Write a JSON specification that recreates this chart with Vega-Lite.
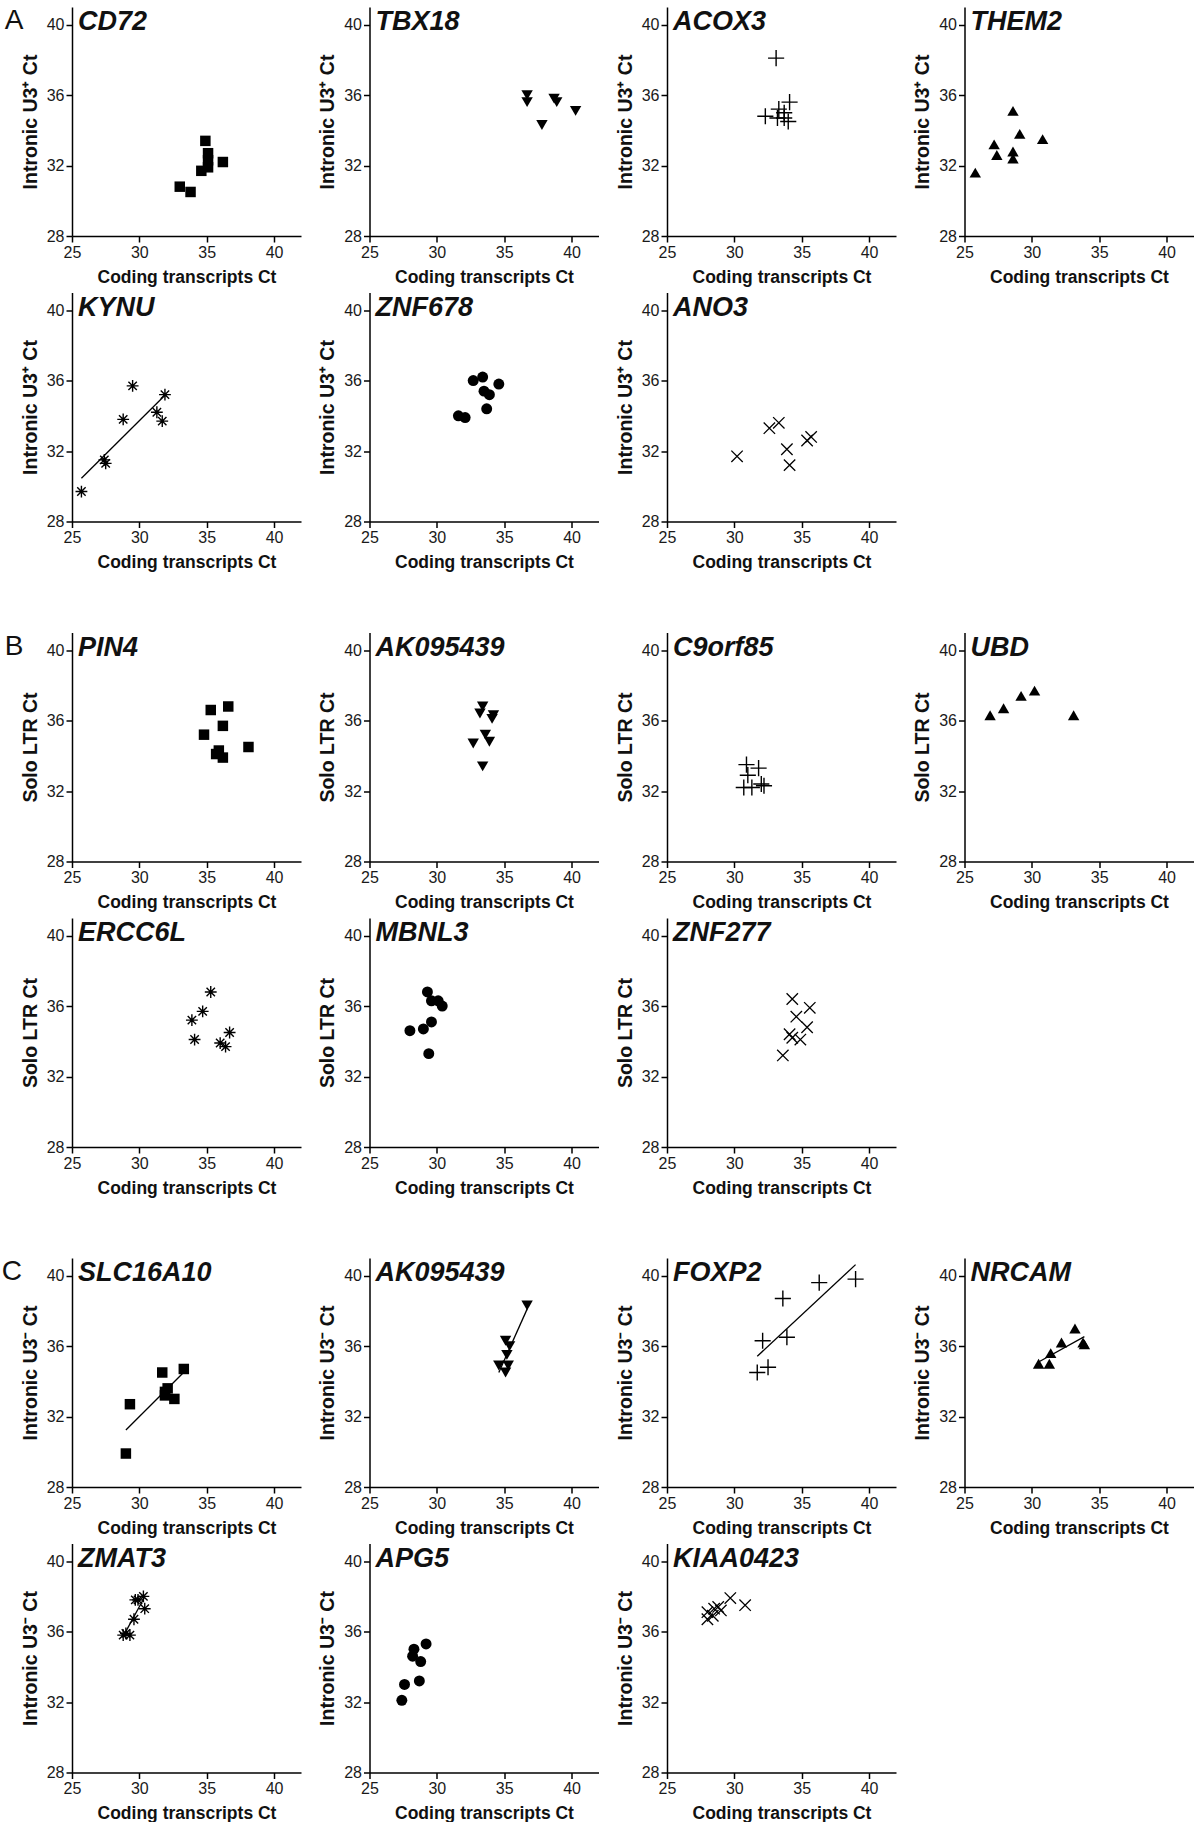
{
"$schema": "https://vega.github.io/schema/vega-lite/v6.json",
"padding": {"left": 1, "top": 7, "right": 2, "bottom": 0},
"background": "white",
"data": {"values": [
{"s":"A","g":"CD72","x":34.9,"y":33.4},{"s":"A","g":"CD72","x":35.1,"y":32.7},{"s":"A","g":"CD72","x":35.1,"y":32.3},{"s":"A","g":"CD72","x":35.1,"y":31.9},{"s":"A","g":"CD72","x":34.6,"y":31.7},{"s":"A","g":"CD72","x":36.2,"y":32.2},{"s":"A","g":"CD72","x":33.0,"y":30.8},{"s":"A","g":"CD72","x":33.8,"y":30.5},
{"s":"A","g":"TBX18","x":36.7,"y":36.0},{"s":"A","g":"TBX18","x":36.7,"y":35.6},{"s":"A","g":"TBX18","x":38.7,"y":35.8},{"s":"A","g":"TBX18","x":38.9,"y":35.6},{"s":"A","g":"TBX18","x":37.8,"y":34.3},{"s":"A","g":"TBX18","x":40.3,"y":35.1},
{"s":"A","g":"ACOX3","x":33.1,"y":38.1},{"s":"A","g":"ACOX3","x":34.1,"y":35.6},{"s":"A","g":"ACOX3","x":33.3,"y":35.2},{"s":"A","g":"ACOX3","x":33.7,"y":35.0},{"s":"A","g":"ACOX3","x":32.3,"y":34.8},{"s":"A","g":"ACOX3","x":33.2,"y":34.7},{"s":"A","g":"ACOX3","x":33.7,"y":34.7},{"s":"A","g":"ACOX3","x":34.0,"y":34.5},
{"s":"A","g":"THEM2","x":25.8,"y":31.6},{"s":"A","g":"THEM2","x":27.2,"y":33.2},{"s":"A","g":"THEM2","x":27.4,"y":32.6},{"s":"A","g":"THEM2","x":28.6,"y":35.1},{"s":"A","g":"THEM2","x":28.6,"y":32.8},{"s":"A","g":"THEM2","x":28.6,"y":32.4},{"s":"A","g":"THEM2","x":29.1,"y":33.8},{"s":"A","g":"THEM2","x":30.8,"y":33.5},
{"s":"A","g":"KYNU","x":25.7,"y":29.7},{"s":"A","g":"KYNU","x":27.4,"y":31.5},{"s":"A","g":"KYNU","x":27.5,"y":31.3},{"s":"A","g":"KYNU","x":28.8,"y":33.8},{"s":"A","g":"KYNU","x":29.5,"y":35.7},{"s":"A","g":"KYNU","x":31.3,"y":34.2},{"s":"A","g":"KYNU","x":31.7,"y":33.7},{"s":"A","g":"KYNU","x":31.9,"y":35.2},
{"s":"A","g":"ZNF678","x":31.6,"y":34.0},{"s":"A","g":"ZNF678","x":32.1,"y":33.9},{"s":"A","g":"ZNF678","x":32.7,"y":36.0},{"s":"A","g":"ZNF678","x":33.4,"y":36.2},{"s":"A","g":"ZNF678","x":33.5,"y":35.4},{"s":"A","g":"ZNF678","x":33.9,"y":35.2},{"s":"A","g":"ZNF678","x":33.7,"y":34.4},{"s":"A","g":"ZNF678","x":34.6,"y":35.8},
{"s":"A","g":"ANO3","x":30.2,"y":31.7},{"s":"A","g":"ANO3","x":32.6,"y":33.3},{"s":"A","g":"ANO3","x":33.3,"y":33.6},{"s":"A","g":"ANO3","x":33.9,"y":32.1},{"s":"A","g":"ANO3","x":34.1,"y":31.2},{"s":"A","g":"ANO3","x":35.4,"y":32.6},{"s":"A","g":"ANO3","x":35.7,"y":32.8},
{"s":"B","g":"PIN4","x":35.3,"y":36.6},{"s":"B","g":"PIN4","x":36.6,"y":36.8},{"s":"B","g":"PIN4","x":36.2,"y":35.7},{"s":"B","g":"PIN4","x":34.8,"y":35.2},{"s":"B","g":"PIN4","x":38.1,"y":34.5},{"s":"B","g":"PIN4","x":35.7,"y":34.1},{"s":"B","g":"PIN4","x":35.9,"y":34.3},{"s":"B","g":"PIN4","x":36.2,"y":33.9},
{"s":"B","g":"AK095439","x":33.4,"y":36.8},{"s":"B","g":"AK095439","x":33.2,"y":36.4},{"s":"B","g":"AK095439","x":34.2,"y":36.3},{"s":"B","g":"AK095439","x":34.1,"y":36.1},{"s":"B","g":"AK095439","x":33.6,"y":35.2},{"s":"B","g":"AK095439","x":33.9,"y":34.8},{"s":"B","g":"AK095439","x":32.7,"y":34.7},{"s":"B","g":"AK095439","x":33.4,"y":33.4},
{"s":"B","g":"C9orf85","x":30.9,"y":33.5},{"s":"B","g":"C9orf85","x":31.8,"y":33.3},{"s":"B","g":"C9orf85","x":31.0,"y":32.9},{"s":"B","g":"C9orf85","x":30.7,"y":32.2},{"s":"B","g":"C9orf85","x":31.3,"y":32.2},{"s":"B","g":"C9orf85","x":32.0,"y":32.4},{"s":"B","g":"C9orf85","x":32.2,"y":32.3},
{"s":"B","g":"UBD","x":26.9,"y":36.3},{"s":"B","g":"UBD","x":27.9,"y":36.7},{"s":"B","g":"UBD","x":29.2,"y":37.4},{"s":"B","g":"UBD","x":30.2,"y":37.7},{"s":"B","g":"UBD","x":33.1,"y":36.3},
{"s":"B","g":"ERCC6L","x":35.3,"y":36.8},{"s":"B","g":"ERCC6L","x":34.7,"y":35.7},{"s":"B","g":"ERCC6L","x":33.9,"y":35.2},{"s":"B","g":"ERCC6L","x":34.1,"y":34.1},{"s":"B","g":"ERCC6L","x":36.7,"y":34.5},{"s":"B","g":"ERCC6L","x":36.0,"y":33.9},{"s":"B","g":"ERCC6L","x":36.4,"y":33.7},
{"s":"B","g":"MBNL3","x":29.3,"y":36.8},{"s":"B","g":"MBNL3","x":29.6,"y":36.3},{"s":"B","g":"MBNL3","x":30.1,"y":36.3},{"s":"B","g":"MBNL3","x":30.4,"y":36.0},{"s":"B","g":"MBNL3","x":29.6,"y":35.1},{"s":"B","g":"MBNL3","x":29.0,"y":34.7},{"s":"B","g":"MBNL3","x":28.0,"y":34.6},{"s":"B","g":"MBNL3","x":29.4,"y":33.3},
{"s":"B","g":"ZNF277","x":34.3,"y":36.4},{"s":"B","g":"ZNF277","x":35.6,"y":35.9},{"s":"B","g":"ZNF277","x":34.6,"y":35.4},{"s":"B","g":"ZNF277","x":35.4,"y":34.8},{"s":"B","g":"ZNF277","x":34.1,"y":34.4},{"s":"B","g":"ZNF277","x":34.3,"y":34.2},{"s":"B","g":"ZNF277","x":34.9,"y":34.1},{"s":"B","g":"ZNF277","x":33.6,"y":33.2},
{"s":"C","g":"SLC16A10","x":29.0,"y":29.9},{"s":"C","g":"SLC16A10","x":29.3,"y":32.7},{"s":"C","g":"SLC16A10","x":31.7,"y":34.5},{"s":"C","g":"SLC16A10","x":33.3,"y":34.7},{"s":"C","g":"SLC16A10","x":32.1,"y":33.6},{"s":"C","g":"SLC16A10","x":31.9,"y":33.4},{"s":"C","g":"SLC16A10","x":31.9,"y":33.2},{"s":"C","g":"SLC16A10","x":32.6,"y":33.0},
{"s":"C","g":"AK095439","x":36.7,"y":38.3},{"s":"C","g":"AK095439","x":35.1,"y":36.3},{"s":"C","g":"AK095439","x":35.4,"y":36.0},{"s":"C","g":"AK095439","x":35.2,"y":35.5},{"s":"C","g":"AK095439","x":34.6,"y":34.9},{"s":"C","g":"AK095439","x":35.3,"y":34.9},{"s":"C","g":"AK095439","x":35.1,"y":34.5},
{"s":"C","g":"FOXP2","x":31.7,"y":34.5},{"s":"C","g":"FOXP2","x":32.5,"y":34.8},{"s":"C","g":"FOXP2","x":32.1,"y":36.3},{"s":"C","g":"FOXP2","x":33.9,"y":36.5},{"s":"C","g":"FOXP2","x":33.6,"y":38.7},{"s":"C","g":"FOXP2","x":36.3,"y":39.6},{"s":"C","g":"FOXP2","x":39.0,"y":39.8},
{"s":"C","g":"NRCAM","x":30.5,"y":35.0},{"s":"C","g":"NRCAM","x":31.3,"y":35.0},{"s":"C","g":"NRCAM","x":31.4,"y":35.6},{"s":"C","g":"NRCAM","x":32.2,"y":36.2},{"s":"C","g":"NRCAM","x":33.2,"y":37.0},{"s":"C","g":"NRCAM","x":33.8,"y":36.2},{"s":"C","g":"NRCAM","x":33.9,"y":36.1},
{"s":"C","g":"ZMAT3","x":28.8,"y":35.8},{"s":"C","g":"ZMAT3","x":29.0,"y":35.9},{"s":"C","g":"ZMAT3","x":29.3,"y":35.8},{"s":"C","g":"ZMAT3","x":29.6,"y":36.7},{"s":"C","g":"ZMAT3","x":29.7,"y":37.8},{"s":"C","g":"ZMAT3","x":29.9,"y":37.8},{"s":"C","g":"ZMAT3","x":30.3,"y":38.0},{"s":"C","g":"ZMAT3","x":30.4,"y":37.3},
{"s":"C","g":"APG5","x":27.4,"y":32.1},{"s":"C","g":"APG5","x":27.6,"y":33.0},{"s":"C","g":"APG5","x":28.3,"y":35.0},{"s":"C","g":"APG5","x":28.2,"y":34.6},{"s":"C","g":"APG5","x":29.2,"y":35.3},{"s":"C","g":"APG5","x":28.8,"y":34.3},{"s":"C","g":"APG5","x":28.7,"y":33.2},
{"s":"C","g":"KIAA0423","x":28.0,"y":36.7},{"s":"C","g":"KIAA0423","x":28.0,"y":37.1},{"s":"C","g":"KIAA0423","x":28.4,"y":36.9},{"s":"C","g":"KIAA0423","x":28.5,"y":37.3},{"s":"C","g":"KIAA0423","x":28.8,"y":37.4},{"s":"C","g":"KIAA0423","x":29.0,"y":37.2},{"s":"C","g":"KIAA0423","x":29.7,"y":37.9},{"s":"C","g":"KIAA0423","x":30.8,"y":37.5}
]},
"spacing": 61.5,
"vconcat": [
{
"title": {"text": "A", "orient": "left", "anchor": "end", "angle": 0, "align": "right", "baseline": "top", "frame": "bounds", "fontSize": 28, "fontWeight": "normal", "fontStyle": "normal", "offset": -22, "dx": 0},
"columns": 4,
"spacing": {"row": 6.5, "column": 16.5},
"concat": [
{"title": "CD72", "width": 229, "height": 229, "transform": [{"filter": "datum.s==='A'&&datum.g==='CD72'"}],
 "encoding": {"x": {"field": "x", "type": "quantitative", "scale": {"domain": [25, 42], "nice": false, "zero": false}, "axis": {"values": [25, 30, 35, 40], "title": "Coding transcripts Ct"}}, "y": {"field": "y", "type": "quantitative", "scale": {"domain": [28, 41], "nice": false, "zero": false}, "axis": {"values": [28, 32, 36, 40], "title": "Intronic U3⁺ Ct"}}},
 "layer": [{"mark": {"type": "point", "shape": "square", "filled": true, "color": "black", "opacity": 1, "size": 110}}]},
{"title": "TBX18", "width": 229, "height": 229, "transform": [{"filter": "datum.s==='A'&&datum.g==='TBX18'"}],
 "encoding": {"x": {"field": "x", "type": "quantitative", "scale": {"domain": [25, 42], "nice": false, "zero": false}, "axis": {"values": [25, 30, 35, 40], "title": "Coding transcripts Ct"}}, "y": {"field": "y", "type": "quantitative", "scale": {"domain": [28, 41], "nice": false, "zero": false}, "axis": {"values": [28, 32, 36, 40], "title": "Intronic U3⁺ Ct"}}},
 "layer": [{"mark": {"type": "point", "shape": "triangle-down", "filled": true, "color": "black", "opacity": 1, "size": 130}}]},
{"title": "ACOX3", "width": 229, "height": 229, "transform": [{"filter": "datum.s==='A'&&datum.g==='ACOX3'"}],
 "encoding": {"x": {"field": "x", "type": "quantitative", "scale": {"domain": [25, 42], "nice": false, "zero": false}, "axis": {"values": [25, 30, 35, 40], "title": "Coding transcripts Ct"}}, "y": {"field": "y", "type": "quantitative", "scale": {"domain": [28, 41], "nice": false, "zero": false}, "axis": {"values": [28, 32, 36, 40], "title": "Intronic U3⁺ Ct"}}},
 "layer": [{"mark": {"type": "point", "shape": "M-1,0L1,0M0,-1L0,1", "filled": false, "color": "black", "opacity": 1, "size": 260, "strokeWidth": 1.4}}]},
{"title": "THEM2", "width": 229, "height": 229, "transform": [{"filter": "datum.s==='A'&&datum.g==='THEM2'"}],
 "encoding": {"x": {"field": "x", "type": "quantitative", "scale": {"domain": [25, 42], "nice": false, "zero": false}, "axis": {"values": [25, 30, 35, 40], "title": "Coding transcripts Ct"}}, "y": {"field": "y", "type": "quantitative", "scale": {"domain": [28, 41], "nice": false, "zero": false}, "axis": {"values": [28, 32, 36, 40], "title": "Intronic U3⁺ Ct"}}},
 "layer": [{"mark": {"type": "point", "shape": "triangle-up", "filled": true, "color": "black", "opacity": 1, "size": 130}}]},
{"title": "KYNU", "width": 229, "height": 229, "transform": [{"filter": "datum.s==='A'&&datum.g==='KYNU'"}],
 "encoding": {"x": {"field": "x", "type": "quantitative", "scale": {"domain": [25, 42], "nice": false, "zero": false}, "axis": {"values": [25, 30, 35, 40], "title": "Coding transcripts Ct"}}, "y": {"field": "y", "type": "quantitative", "scale": {"domain": [28, 41], "nice": false, "zero": false}, "axis": {"values": [28, 32, 36, 40], "title": "Intronic U3⁺ Ct"}}},
 "layer": [{"mark": {"type": "point", "shape": "M-1,0L1,0M0,-1L0,1M-0.71,-0.71L0.71,0.71M-0.71,0.71L0.71,-0.71", "filled": false, "color": "black", "opacity": 1, "size": 140, "strokeWidth": 1.4}},
  {"transform": [{"regression": "y", "on": "x"}], "mark": {"type": "line", "color": "black", "strokeWidth": 1.3}, "encoding": {}}]},
{"title": "ZNF678", "width": 229, "height": 229, "transform": [{"filter": "datum.s==='A'&&datum.g==='ZNF678'"}],
 "encoding": {"x": {"field": "x", "type": "quantitative", "scale": {"domain": [25, 42], "nice": false, "zero": false}, "axis": {"values": [25, 30, 35, 40], "title": "Coding transcripts Ct"}}, "y": {"field": "y", "type": "quantitative", "scale": {"domain": [28, 41], "nice": false, "zero": false}, "axis": {"values": [28, 32, 36, 40], "title": "Intronic U3⁺ Ct"}}},
 "layer": [{"mark": {"type": "point", "shape": "circle", "filled": true, "color": "black", "opacity": 1, "size": 120}}]},
{"title": "ANO3", "width": 229, "height": 229, "transform": [{"filter": "datum.s==='A'&&datum.g==='ANO3'"}],
 "encoding": {"x": {"field": "x", "type": "quantitative", "scale": {"domain": [25, 42], "nice": false, "zero": false}, "axis": {"values": [25, 30, 35, 40], "title": "Coding transcripts Ct"}}, "y": {"field": "y", "type": "quantitative", "scale": {"domain": [28, 41], "nice": false, "zero": false}, "axis": {"values": [28, 32, 36, 40], "title": "Intronic U3⁺ Ct"}}},
 "layer": [{"mark": {"type": "point", "shape": "M-1,-1L1,1M-1,1L1,-1", "filled": false, "color": "black", "opacity": 1, "size": 130, "strokeWidth": 1.3}}]}
]},
{
"title": {"text": "B", "orient": "left", "anchor": "end", "angle": 0, "align": "right", "baseline": "top", "frame": "bounds", "fontSize": 28, "fontWeight": "normal", "fontStyle": "normal", "offset": -22, "dx": 0},
"columns": 4,
"spacing": {"row": 6.5, "column": 16.5},
"concat": [
{"title": "PIN4", "width": 229, "height": 229, "transform": [{"filter": "datum.s==='B'&&datum.g==='PIN4'"}],
 "encoding": {"x": {"field": "x", "type": "quantitative", "scale": {"domain": [25, 42], "nice": false, "zero": false}, "axis": {"values": [25, 30, 35, 40], "title": "Coding transcripts Ct"}}, "y": {"field": "y", "type": "quantitative", "scale": {"domain": [28, 41], "nice": false, "zero": false}, "axis": {"values": [28, 32, 36, 40], "title": "Solo LTR Ct"}}},
 "layer": [{"mark": {"type": "point", "shape": "square", "filled": true, "color": "black", "opacity": 1, "size": 110}}]},
{"title": "AK095439", "width": 229, "height": 229, "transform": [{"filter": "datum.s==='B'&&datum.g==='AK095439'"}],
 "encoding": {"x": {"field": "x", "type": "quantitative", "scale": {"domain": [25, 42], "nice": false, "zero": false}, "axis": {"values": [25, 30, 35, 40], "title": "Coding transcripts Ct"}}, "y": {"field": "y", "type": "quantitative", "scale": {"domain": [28, 41], "nice": false, "zero": false}, "axis": {"values": [28, 32, 36, 40], "title": "Solo LTR Ct"}}},
 "layer": [{"mark": {"type": "point", "shape": "triangle-down", "filled": true, "color": "black", "opacity": 1, "size": 130}}]},
{"title": "C9orf85", "width": 229, "height": 229, "transform": [{"filter": "datum.s==='B'&&datum.g==='C9orf85'"}],
 "encoding": {"x": {"field": "x", "type": "quantitative", "scale": {"domain": [25, 42], "nice": false, "zero": false}, "axis": {"values": [25, 30, 35, 40], "title": "Coding transcripts Ct"}}, "y": {"field": "y", "type": "quantitative", "scale": {"domain": [28, 41], "nice": false, "zero": false}, "axis": {"values": [28, 32, 36, 40], "title": "Solo LTR Ct"}}},
 "layer": [{"mark": {"type": "point", "shape": "M-1,0L1,0M0,-1L0,1", "filled": false, "color": "black", "opacity": 1, "size": 260, "strokeWidth": 1.4}}]},
{"title": "UBD", "width": 229, "height": 229, "transform": [{"filter": "datum.s==='B'&&datum.g==='UBD'"}],
 "encoding": {"x": {"field": "x", "type": "quantitative", "scale": {"domain": [25, 42], "nice": false, "zero": false}, "axis": {"values": [25, 30, 35, 40], "title": "Coding transcripts Ct"}}, "y": {"field": "y", "type": "quantitative", "scale": {"domain": [28, 41], "nice": false, "zero": false}, "axis": {"values": [28, 32, 36, 40], "title": "Solo LTR Ct"}}},
 "layer": [{"mark": {"type": "point", "shape": "triangle-up", "filled": true, "color": "black", "opacity": 1, "size": 130}}]},
{"title": "ERCC6L", "width": 229, "height": 229, "transform": [{"filter": "datum.s==='B'&&datum.g==='ERCC6L'"}],
 "encoding": {"x": {"field": "x", "type": "quantitative", "scale": {"domain": [25, 42], "nice": false, "zero": false}, "axis": {"values": [25, 30, 35, 40], "title": "Coding transcripts Ct"}}, "y": {"field": "y", "type": "quantitative", "scale": {"domain": [28, 41], "nice": false, "zero": false}, "axis": {"values": [28, 32, 36, 40], "title": "Solo LTR Ct"}}},
 "layer": [{"mark": {"type": "point", "shape": "M-1,0L1,0M0,-1L0,1M-0.71,-0.71L0.71,0.71M-0.71,0.71L0.71,-0.71", "filled": false, "color": "black", "opacity": 1, "size": 140, "strokeWidth": 1.4}}]},
{"title": "MBNL3", "width": 229, "height": 229, "transform": [{"filter": "datum.s==='B'&&datum.g==='MBNL3'"}],
 "encoding": {"x": {"field": "x", "type": "quantitative", "scale": {"domain": [25, 42], "nice": false, "zero": false}, "axis": {"values": [25, 30, 35, 40], "title": "Coding transcripts Ct"}}, "y": {"field": "y", "type": "quantitative", "scale": {"domain": [28, 41], "nice": false, "zero": false}, "axis": {"values": [28, 32, 36, 40], "title": "Solo LTR Ct"}}},
 "layer": [{"mark": {"type": "point", "shape": "circle", "filled": true, "color": "black", "opacity": 1, "size": 120}}]},
{"title": "ZNF277", "width": 229, "height": 229, "transform": [{"filter": "datum.s==='B'&&datum.g==='ZNF277'"}],
 "encoding": {"x": {"field": "x", "type": "quantitative", "scale": {"domain": [25, 42], "nice": false, "zero": false}, "axis": {"values": [25, 30, 35, 40], "title": "Coding transcripts Ct"}}, "y": {"field": "y", "type": "quantitative", "scale": {"domain": [28, 41], "nice": false, "zero": false}, "axis": {"values": [28, 32, 36, 40], "title": "Solo LTR Ct"}}},
 "layer": [{"mark": {"type": "point", "shape": "M-1,-1L1,1M-1,1L1,-1", "filled": false, "color": "black", "opacity": 1, "size": 130, "strokeWidth": 1.3}}]}
]},
{
"title": {"text": "C", "orient": "left", "anchor": "end", "angle": 0, "align": "right", "baseline": "top", "frame": "bounds", "fontSize": 28, "fontWeight": "normal", "fontStyle": "normal", "offset": -22, "dx": 0},
"columns": 4,
"spacing": {"row": 6.5, "column": 16.5},
"concat": [
{"title": "SLC16A10", "width": 229, "height": 229, "transform": [{"filter": "datum.s==='C'&&datum.g==='SLC16A10'"}],
 "encoding": {"x": {"field": "x", "type": "quantitative", "scale": {"domain": [25, 42], "nice": false, "zero": false}, "axis": {"values": [25, 30, 35, 40], "title": "Coding transcripts Ct"}}, "y": {"field": "y", "type": "quantitative", "scale": {"domain": [28, 41], "nice": false, "zero": false}, "axis": {"values": [28, 32, 36, 40], "title": "Intronic U3⁻ Ct"}}},
 "layer": [{"mark": {"type": "point", "shape": "square", "filled": true, "color": "black", "opacity": 1, "size": 110}},
  {"transform": [{"regression": "y", "on": "x"}], "mark": {"type": "line", "color": "black", "strokeWidth": 1.3}, "encoding": {}}]},
{"title": "AK095439", "width": 229, "height": 229, "transform": [{"filter": "datum.s==='C'&&datum.g==='AK095439'"}],
 "encoding": {"x": {"field": "x", "type": "quantitative", "scale": {"domain": [25, 42], "nice": false, "zero": false}, "axis": {"values": [25, 30, 35, 40], "title": "Coding transcripts Ct"}}, "y": {"field": "y", "type": "quantitative", "scale": {"domain": [28, 41], "nice": false, "zero": false}, "axis": {"values": [28, 32, 36, 40], "title": "Intronic U3⁻ Ct"}}},
 "layer": [{"mark": {"type": "point", "shape": "triangle-down", "filled": true, "color": "black", "opacity": 1, "size": 130}},
  {"transform": [{"regression": "y", "on": "x"}], "mark": {"type": "line", "color": "black", "strokeWidth": 1.3}, "encoding": {}}]},
{"title": "FOXP2", "width": 229, "height": 229, "transform": [{"filter": "datum.s==='C'&&datum.g==='FOXP2'"}],
 "encoding": {"x": {"field": "x", "type": "quantitative", "scale": {"domain": [25, 42], "nice": false, "zero": false}, "axis": {"values": [25, 30, 35, 40], "title": "Coding transcripts Ct"}}, "y": {"field": "y", "type": "quantitative", "scale": {"domain": [28, 41], "nice": false, "zero": false}, "axis": {"values": [28, 32, 36, 40], "title": "Intronic U3⁻ Ct"}}},
 "layer": [{"mark": {"type": "point", "shape": "M-1,0L1,0M0,-1L0,1", "filled": false, "color": "black", "opacity": 1, "size": 260, "strokeWidth": 1.4}},
  {"transform": [{"regression": "y", "on": "x"}], "mark": {"type": "line", "color": "black", "strokeWidth": 1.3}, "encoding": {}}]},
{"title": "NRCAM", "width": 229, "height": 229, "transform": [{"filter": "datum.s==='C'&&datum.g==='NRCAM'"}],
 "encoding": {"x": {"field": "x", "type": "quantitative", "scale": {"domain": [25, 42], "nice": false, "zero": false}, "axis": {"values": [25, 30, 35, 40], "title": "Coding transcripts Ct"}}, "y": {"field": "y", "type": "quantitative", "scale": {"domain": [28, 41], "nice": false, "zero": false}, "axis": {"values": [28, 32, 36, 40], "title": "Intronic U3⁻ Ct"}}},
 "layer": [{"mark": {"type": "point", "shape": "triangle-up", "filled": true, "color": "black", "opacity": 1, "size": 130}},
  {"transform": [{"regression": "y", "on": "x"}], "mark": {"type": "line", "color": "black", "strokeWidth": 1.3}, "encoding": {}}]},
{"title": "ZMAT3", "width": 229, "height": 229, "transform": [{"filter": "datum.s==='C'&&datum.g==='ZMAT3'"}],
 "encoding": {"x": {"field": "x", "type": "quantitative", "scale": {"domain": [25, 42], "nice": false, "zero": false}, "axis": {"values": [25, 30, 35, 40], "title": "Coding transcripts Ct"}}, "y": {"field": "y", "type": "quantitative", "scale": {"domain": [28, 41], "nice": false, "zero": false}, "axis": {"values": [28, 32, 36, 40], "title": "Intronic U3⁻ Ct"}}},
 "layer": [{"mark": {"type": "point", "shape": "M-1,0L1,0M0,-1L0,1M-0.71,-0.71L0.71,0.71M-0.71,0.71L0.71,-0.71", "filled": false, "color": "black", "opacity": 1, "size": 140, "strokeWidth": 1.4}},
  {"transform": [{"regression": "y", "on": "x"}], "mark": {"type": "line", "color": "black", "strokeWidth": 1.3}, "encoding": {}}]},
{"title": "APG5", "width": 229, "height": 229, "transform": [{"filter": "datum.s==='C'&&datum.g==='APG5'"}],
 "encoding": {"x": {"field": "x", "type": "quantitative", "scale": {"domain": [25, 42], "nice": false, "zero": false}, "axis": {"values": [25, 30, 35, 40], "title": "Coding transcripts Ct"}}, "y": {"field": "y", "type": "quantitative", "scale": {"domain": [28, 41], "nice": false, "zero": false}, "axis": {"values": [28, 32, 36, 40], "title": "Intronic U3⁻ Ct"}}},
 "layer": [{"mark": {"type": "point", "shape": "circle", "filled": true, "color": "black", "opacity": 1, "size": 120}}]},
{"title": "KIAA0423", "width": 229, "height": 229, "transform": [{"filter": "datum.s==='C'&&datum.g==='KIAA0423'"}],
 "encoding": {"x": {"field": "x", "type": "quantitative", "scale": {"domain": [25, 42], "nice": false, "zero": false}, "axis": {"values": [25, 30, 35, 40], "title": "Coding transcripts Ct"}}, "y": {"field": "y", "type": "quantitative", "scale": {"domain": [28, 41], "nice": false, "zero": false}, "axis": {"values": [28, 32, 36, 40], "title": "Intronic U3⁻ Ct"}}},
 "layer": [{"mark": {"type": "point", "shape": "M-1,-1L1,1M-1,1L1,-1", "filled": false, "color": "black", "opacity": 1, "size": 130, "strokeWidth": 1.3}}]}
]}
],
"config": {
 "view": {"stroke": null},
 "font": "Liberation Sans",
 "axis": {"domainColor": "black", "domainWidth": 1.5, "tickColor": "black", "tickWidth": 1.5, "tickSize": 6, "labelFontSize": 16, "labelColor": "#1a1a1a", "labelPadding": 2, "labelFlush": false, "titleFontWeight": "bold", "titleColor": "#111111", "grid": false, "labelFont": "Liberation Sans", "titleFont": "Liberation Sans"},
 "axisX": {"titlePadding": 8, "titleFontSize": 17.5},
 "axisY": {"titlePadding": 6, "titleFontSize": 19.5},
 "title": {"anchor": "start", "frame": "group", "font": "Liberation Sans", "fontSize": 27, "fontWeight": "bold", "fontStyle": "italic", "color": "#111111", "offset": -29, "dx": 6, "baseline": "alphabetic"}
}
}
